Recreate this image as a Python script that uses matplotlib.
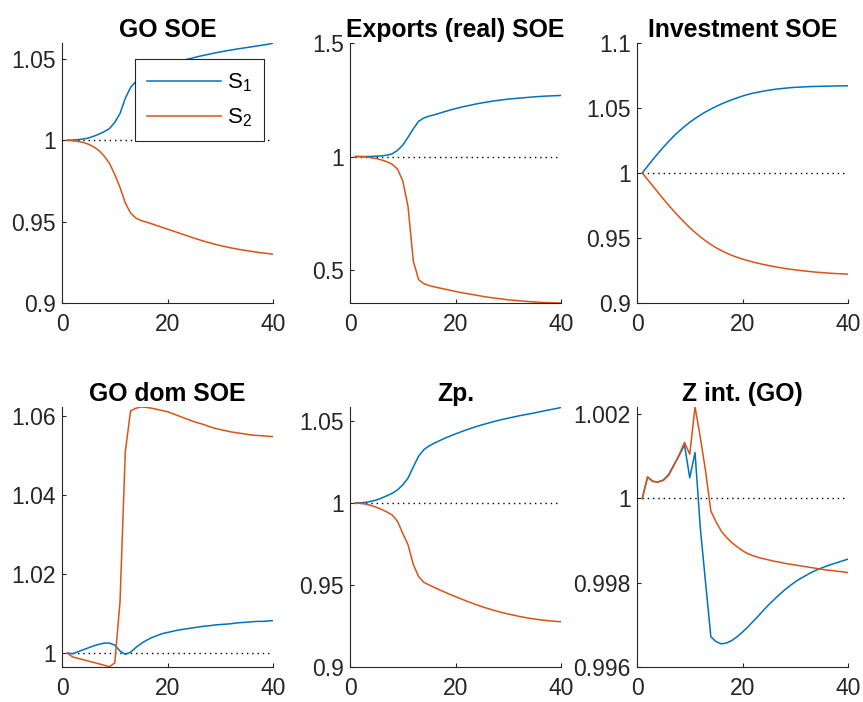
import matplotlib
matplotlib.use("Agg")
import matplotlib.pyplot as plt

plt.rcParams['font.family'] = ['Liberation Sans', 'DejaVu Sans']
plt.rcParams['mathtext.default'] = 'regular'

# Periods 1..40
t = list(range(1, 41))

# GO SOE
go_s1 = [1.0, 1.0001, 1.0004, 1.0008, 1.0014, 1.0025, 1.0038, 1.0053, 1.0072, 1.0110,
         1.0165, 1.0258, 1.0325, 1.0362, 1.0385, 1.0405, 1.0423, 1.0439, 1.0452, 1.0463,
         1.0474, 1.0484, 1.0492, 1.0500, 1.0508, 1.0516, 1.0523, 1.0530, 1.0537, 1.0543,
         1.0549, 1.0555, 1.0560, 1.0565, 1.0570, 1.0575, 1.0580, 1.0585, 1.0590, 1.0597]
go_s2 = [1.0, 0.9998, 0.9993, 0.9987, 0.9976, 0.9960, 0.9937, 0.9903, 0.9858, 0.9790,
         0.9710, 0.9615, 0.9553, 0.9522, 0.9507, 0.9497, 0.9487, 0.9476, 0.9465, 0.9454,
         0.9443, 0.9432, 0.9421, 0.9410, 0.9399, 0.9389, 0.9379, 0.9370, 0.9361, 0.9353,
         0.9346, 0.9339, 0.9333, 0.9327, 0.9322, 0.9317, 0.9312, 0.9308, 0.9304, 0.9300]

# Exports (real) SOE
exp_s1 = [1.0, 1.0, 1.0, 1.0005, 1.0015, 1.003, 1.006, 1.012, 1.027, 1.050,
          1.085, 1.122, 1.155, 1.170, 1.178, 1.184, 1.191, 1.198, 1.205, 1.211,
          1.217, 1.222, 1.227, 1.232, 1.236, 1.240, 1.244, 1.247, 1.250, 1.253,
          1.255, 1.257, 1.259, 1.261, 1.263, 1.2645, 1.266, 1.267, 1.268, 1.269]
exp_s2 = [1.0, 0.9995, 0.998, 0.995, 0.991, 0.985, 0.977, 0.966, 0.945, 0.893,
          0.780, 0.540, 0.458, 0.440, 0.432, 0.426, 0.421, 0.416, 0.411, 0.406,
          0.401, 0.397, 0.393, 0.389, 0.385, 0.381, 0.378, 0.375, 0.372, 0.369,
          0.367, 0.365, 0.363, 0.361, 0.3595, 0.358, 0.357, 0.356, 0.3555, 0.355]

# Investment SOE
inv_s1 = [1.0, 1.0052, 1.0103, 1.0152, 1.0199, 1.0243, 1.0285, 1.0323, 1.0358, 1.0390,
          1.0419, 1.0446, 1.0470, 1.0492, 1.0512, 1.0531, 1.0548, 1.0564, 1.0578, 1.0592,
          1.0604, 1.0614, 1.0622, 1.0630, 1.0637, 1.0643, 1.0648, 1.0652, 1.0656, 1.0659,
          1.0661, 1.0663, 1.0665, 1.0666, 1.0667, 1.0668, 1.0669, 1.0670, 1.0670, 1.0671]
inv_s2 = [1.0, 0.9950, 0.9900, 0.9850, 0.9800, 0.9752, 0.9706, 0.9662, 0.9620, 0.9580,
          0.9543, 0.9509, 0.9478, 0.9450, 0.9425, 0.9403, 0.9383, 0.9366, 0.9351, 0.9338,
          0.9326, 0.9315, 0.9305, 0.9296, 0.9288, 0.9280, 0.9273, 0.9266, 0.9260, 0.9255,
          0.9250, 0.9245, 0.9241, 0.9237, 0.9234, 0.9231, 0.9228, 0.9226, 0.9224, 0.9222]

# GO dom SOE
dom_s1 = [1.0, 0.9998, 1.0003, 1.0008, 1.0013, 1.0018, 1.0022, 1.0025, 1.0025, 1.0020,
          1.0005, 0.99965, 1.0002, 1.0014, 1.0024, 1.0032, 1.0039, 1.0044, 1.0049, 1.0052,
          1.0055, 1.0058, 1.0060, 1.0062, 1.0064, 1.0066, 1.0068, 1.0069, 1.0071, 1.0072,
          1.0073, 1.0074, 1.0076, 1.0077, 1.0078, 1.0079, 1.0080, 1.0080, 1.0081, 1.0082]
dom_s2 = [1.0, 0.9990, 0.99865, 0.9983, 0.99795, 0.9976, 0.99725, 0.9969, 0.99650, 0.9975,
          1.0130, 1.0510, 1.0613, 1.0620, 1.0623, 1.0622, 1.0620, 1.0617, 1.0614, 1.0611,
          1.0606, 1.0601, 1.0596, 1.0591, 1.0586, 1.0582, 1.0578, 1.0573, 1.0569, 1.0566,
          1.0563, 1.0560, 1.0558, 1.0556, 1.0554, 1.0552, 1.0551, 1.0550, 1.0549, 1.0548]

# Zp.
zp_s1 = [1.0, 1.0001, 1.0004, 1.0010, 1.0018, 1.0030, 1.0044, 1.0059, 1.0080, 1.0110,
         1.0152, 1.0220, 1.0285, 1.0325, 1.0348, 1.0365, 1.0380, 1.0395, 1.0408, 1.0421,
         1.0433, 1.0445, 1.0456, 1.0466, 1.0476, 1.0485, 1.0494, 1.0502, 1.0510, 1.0517,
         1.0524, 1.0531, 1.0537, 1.0543, 1.0549, 1.0556, 1.0563, 1.0569, 1.0575, 1.0582]
zp_s2 = [1.0, 0.9998, 0.9993, 0.9985, 0.9974, 0.9960, 0.9945, 0.9927, 0.9888, 0.9815,
         0.9745, 0.9625, 0.9552, 0.9516, 0.9500, 0.9485, 0.9470, 0.9456, 0.9442, 0.9429,
         0.9416, 0.9403, 0.9391, 0.9379, 0.9368, 0.9358, 0.9348, 0.9339, 0.9331, 0.9323,
         0.9316, 0.9309, 0.9303, 0.9297, 0.9292, 0.9288, 0.9284, 0.9281, 0.9278, 0.9276]

# Z int. (GO)
zint_s1 = [1.0, 1.00051, 1.00040, 1.00039, 1.00044, 1.00057, 1.00080, 1.00102, 1.00127, 1.00049,
           1.00109, 0.99930, 0.99800, 0.99672, 0.99660, 0.99655, 0.99657, 0.99663, 0.99672, 0.99683,
           0.99695, 0.99708, 0.99721, 0.99735, 0.99748, 0.99760, 0.99772, 0.99783, 0.99793, 0.99802,
           0.99810, 0.99817, 0.99824, 0.99830, 0.99835, 0.99840, 0.99844, 0.99848, 0.99852, 0.99856]
zint_s2 = [1.0, 1.00051, 1.00041, 1.00039, 1.00043, 1.00055, 1.00078, 1.00104, 1.00133, 1.00105,
           1.00217, 1.00145, 1.00065, 0.99970, 0.99944, 0.99922, 0.99907, 0.99895, 0.99885, 0.99876,
           0.99869, 0.99864, 0.99860, 0.99857, 0.99854, 0.99851, 0.99849, 0.99846, 0.99844, 0.99842,
           0.99840, 0.99838, 0.99836, 0.99834, 0.99832, 0.99830, 0.99829, 0.99827, 0.99826, 0.99824]

titles = ['GO SOE', 'Exports (real) SOE', 'Investment SOE',
          'GO dom SOE', 'Zp.', 'Z int. (GO)']
series = [(go_s1, go_s2), (exp_s1, exp_s2), (inv_s1, inv_s2),
          (dom_s1, dom_s2), (zp_s1, zp_s2), (zint_s1, zint_s2)]
ylims = [(0.9, 1.0598), (0.355, 1.5), (0.9, 1.1),
         (0.99645, 1.0623), (0.9, 1.0585), (0.996, 1.00217)]
yticks = [[0.9, 0.95, 1, 1.05], [0.5, 1, 1.5], [0.9, 0.95, 1, 1.05, 1.1],
          [1, 1.02, 1.04, 1.06], [0.9, 0.95, 1, 1.05], [0.996, 0.998, 1, 1.002]]
yticklabels = [['0.9', '0.95', '1', '1.05'], ['0.5', '1', '1.5'],
               ['0.9', '0.95', '1', '1.05', '1.1'],
               ['1', '1.02', '1.04', '1.06'], ['0.9', '0.95', '1', '1.05'],
               ['0.996', '0.998', '1', '1.002']]

blue = '#0072BD'
orange = '#D95319'
axcol = '#262626'

W, H = 863, 702
col_left = [62, 350, 637]
row_top = [43, 407]
aw, ah = 211, 260

fig = plt.figure(figsize=(W / 100, H / 100), dpi=100)

for i in range(6):
    r, c = divmod(i, 3)
    ax = fig.add_axes([col_left[c] / W, 1 - (row_top[r] + ah) / H, aw / W, ah / H])
    s1, s2 = series[i]
    ax.plot(t, [1] * len(t), color='k', lw=1.0, linestyle=(0, (1, 2.8)))
    ax.plot(t, s1, color=blue, lw=1.1, label='$S_1$')
    ax.plot(t, s2, color=orange, lw=1.1, label='$S_2$')
    ax.set_xlim(0, 40)
    ax.set_ylim(*ylims[i])
    ax.set_xticks([0, 20, 40])
    ax.set_yticks(yticks[i])
    ax.set_yticklabels(yticklabels[i])
    ax.set_title(titles[i], fontsize=17.8, fontweight='bold', pad=4)
    for side in ['top', 'right']:
        ax.spines[side].set_visible(False)
    for side in ['left', 'bottom']:
        ax.spines[side].set_color(axcol)
        ax.spines[side].set_linewidth(0.8)
    ax.tick_params(direction='in', length=3, width=0.8, colors=axcol,
                   labelsize=16.5, pad=4.5)
    ax.tick_params(axis='x', pad=7)

    if i == 0:
        leg = ax.legend(loc='upper left', bbox_to_anchor=(0.346, 0.937),
                        fontsize=16, handlelength=3.3, handletextpad=0.3,
                        labelspacing=0.55, borderpad=0.55, borderaxespad=0,
                        fancybox=False, framealpha=1, edgecolor=axcol)
        leg.get_frame().set_linewidth(0.8)

fig.savefig('out.png', dpi=100)
